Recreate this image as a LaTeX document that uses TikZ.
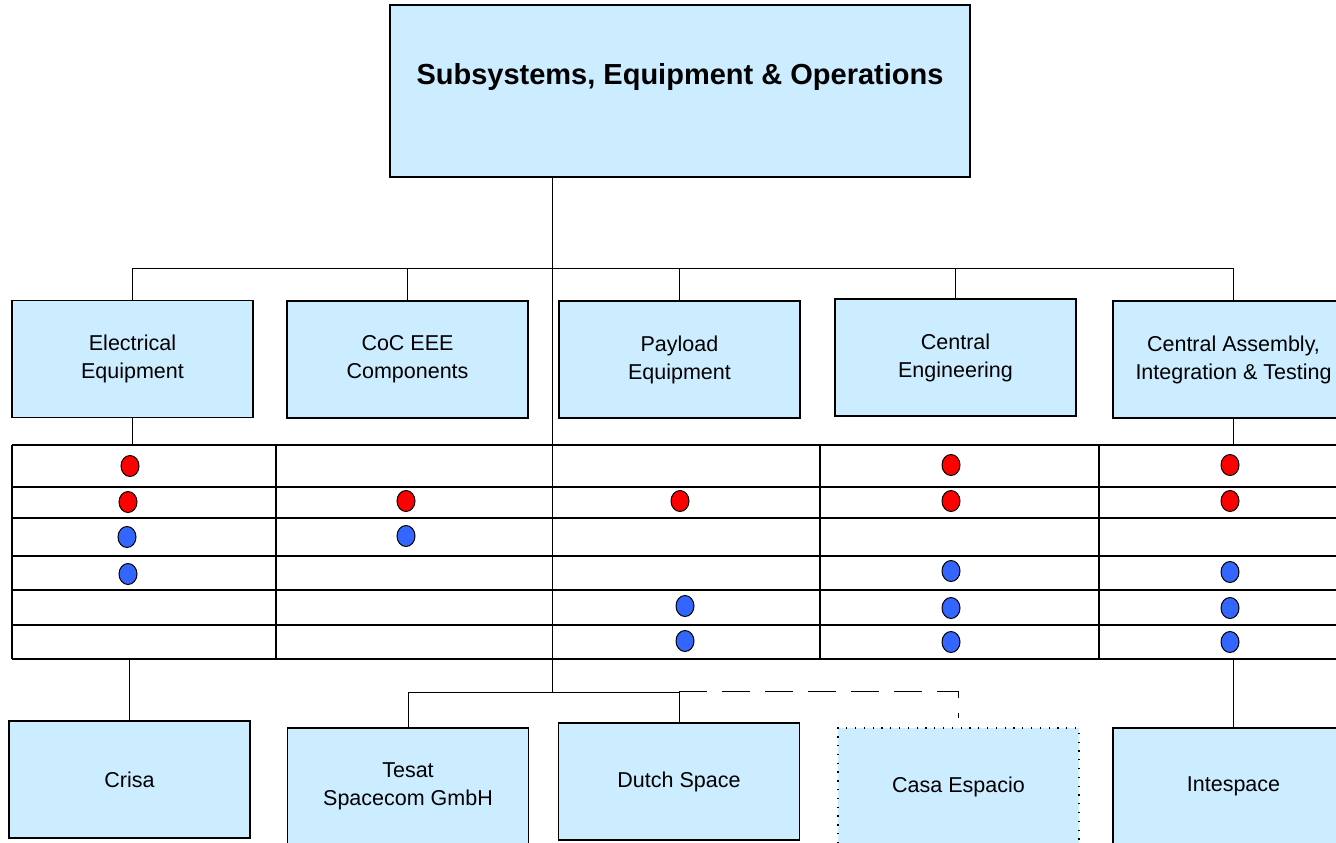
\documentclass[tikz,border=0pt]{standalone}
\usepackage{fontspec}
\setmainfont{Liberation Sans}
\usepackage{tikz}
\usetikzlibrary{calc,positioning}
\definecolor{boxblue}{RGB}{204,236,255}
\definecolor{dotblue}{RGB}{51,102,255}
\tikzset{>=latex}
\tikzset{
	unit/.style={draw, fill=boxblue, line width=1.2pt, minimum width=241pt, minimum height=117pt, inner sep=0pt, align=center, font=\fontsize{21.5}{28}\selectfont},
	partner/.style={unit},
	maybe/.style={unit, draw=black, line width=1.3pt, dash pattern=on 1.3pt off 7.5pt},
	conn/.style={line width=0.9pt},
	gridline/.style={line width=1.2pt}
}

\begin{document}
\begin{tikzpicture}[x=1pt,y=-1pt]
		\useasboundingbox (0,0) rectangle (1336,843);
		\clip (0,0) rectangle (1336,843);
		\node[unit, minimum width=580pt, minimum height=172pt] (top) at (680,91) {};
		\node[font=\bfseries\fontsize{29}{34}\selectfont] (title) at (680,77) {Subsystems, Equipment \& Operations};
		\node[unit] (elec) at (132.5,359) {Electrical\\Equipment};
		\node[unit] (coc) at (407.5,359.5) {CoC EEE\\Components};
		\node[unit] (pay) at (679.5,359.5) {Payload\\Equipment};
		\node[unit] (eng) at (955.5,357.5) {Central\\Engineering};
		\node[unit] (cait) at (1233.5,359.5) {Central Assembly,\\Integration \& Testing};
		\node[partner] (crisa) at (129.5,779.5) {Crisa};
		\node[partner] (tesat) at (408,786.5) {Tesat\\Spacecom GmbH};
		\node[partner] (dutch) at (679,781.5) {Dutch Space};
		\node[maybe] (casa) at (958.5,786.5) {Casa Espacio};
		\node[partner] (intes) at (1233.5,786.5) {Intespace};
		\coordinate (bus1) at (552,268);
		\coordinate (bus2) at (552,692);
		\coordinate (gtop) at (12,445);
		\coordinate (gbot) at (12,659);
		% tree above the table
		\draw[conn] (top.south -| bus1) -- (bus2);
		\draw[conn] (elec.north) |- (cait.north |- bus1) -- (cait.north);
		\foreach \n in {coc,pay,eng}
			\draw[conn] (\n.north) -- (\n.north |- bus1);
		% table of dots
		\foreach \y in {445,487,518,556,590,625,659}
			\draw[gridline] (12,\y) -- (1340,\y);
		\foreach \x in {12,276,820,1099}
			\draw[gridline] (\x,445) -- (\x,659);
		\foreach \x/\y in {130/466,128/502,406/501,680/501,951/465,951/501,1230/465,1230/501}
			\filldraw[fill=red, line width=1pt] (\x,\y) ellipse (9 and 10.5);
		\foreach \x/\y in {127/537,128/574,406/536,685/606,685/641,951/571,951/608,951/642,1230/572,1230/608,1230/642}
			\filldraw[fill=dotblue, line width=1pt] (\x,\y) ellipse (9 and 10.5);
		\draw[conn] (elec.south) -- (elec.south |- gtop);
		\draw[conn] (cait.south) -- (cait.south |- gtop);
		% tree below the table
		\draw[conn] (crisa.north) -- (crisa.north |- gbot);
		\draw[conn] (intes.north) -- (intes.north |- gbot);
		\draw[conn, dash pattern=on 28pt off 15pt, dash phase=0pt] ($(dutch.north |- bus2)+(0,-1)$) -| ($(casa.north)+(0,-9)$);
		\draw[conn] (tesat.north) |- (dutch.north |- bus2) -- (dutch.north);
	\end{tikzpicture}
\end{document}
